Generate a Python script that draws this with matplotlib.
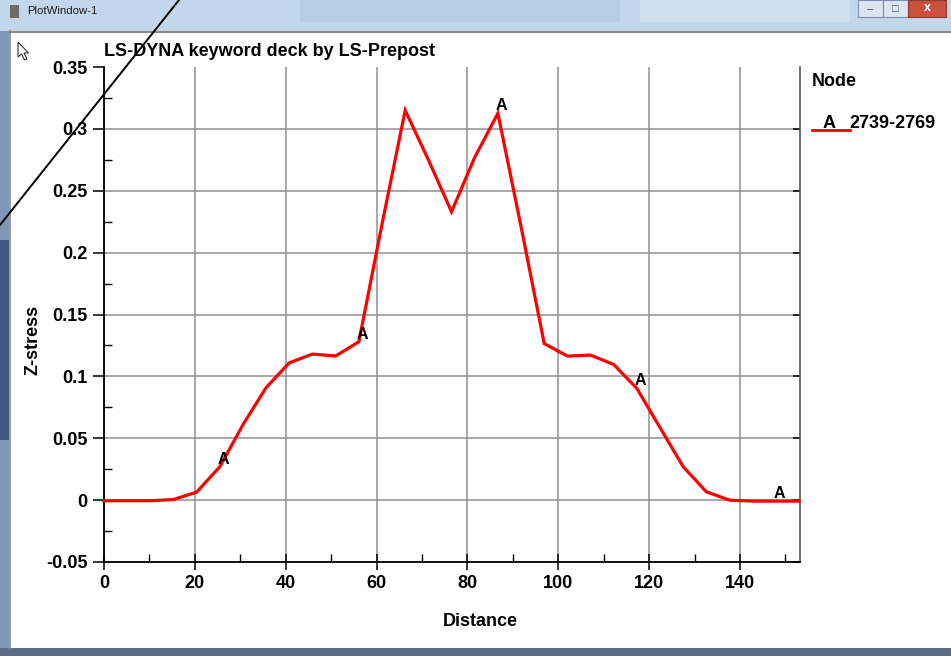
import matplotlib
matplotlib.use("Agg")
import matplotlib.pyplot as plt
from matplotlib.patches import Rectangle, Polygon
from matplotlib.lines import Line2D
from matplotlib.ticker import MultipleLocator

plt.rcParams['font.family'] = ['Liberation Sans', 'DejaVu Sans']

# Z-stress along the node path 2739-2769
distance = [0.0, 5.1, 10.2, 15.3, 20.4, 25.5, 30.6, 35.7, 40.8, 45.9,
            51.0, 56.1, 61.2, 66.3, 71.4, 76.5, 81.6, 86.7, 91.8, 96.9,
            102.0, 107.1, 112.2, 117.3, 122.4, 127.5, 132.6, 137.7, 142.8, 147.9,
            153.0]
zstress = [-0.0005, -0.0005, -0.0005, 0.0005, 0.0065, 0.027, 0.061, 0.091, 0.111, 0.118,
           0.1165, 0.128, 0.223, 0.315, 0.275, 0.233, 0.277, 0.3125, 0.221, 0.1265,
           0.1164, 0.1172, 0.1096, 0.0902, 0.0585, 0.0269, 0.0067, 0.0, -0.0008, -0.0008,
           -0.0008]
marker_every = [5, 11, 17, 23, 29]
curve_tag = "A"
node_range = "2739-2769"

x_ticks = [0, 20, 40, 60, 80, 100, 120, 140]
y_ticks = [-0.05, 0, 0.05, 0.1, 0.15, 0.2, 0.25, 0.3, 0.35]
y_tick_labels = ["-0.05", "0", "0.05", "0.1", "0.15", "0.2", "0.25", "0.3", "0.35"]

W, H = 951, 656
fig = plt.figure(figsize=(W / 100, H / 100), dpi=100)


def fx(px):
    return px / W


def fy(py):
    return 1 - py / H


def rect(x0, y0, x1, y1, color, z=0, **kw):
    fig.patches.append(Rectangle((fx(x0), fy(y1)), fx(x1) - fx(x0), fy(y0) - fy(y1),
                                 transform=fig.transFigure, facecolor=color,
                                 edgecolor=kw.pop('ec', 'none'), zorder=z, **kw))


# window frame
rect(0, 0, W, 31, '#c3d7ec')
rect(300, 0, 620, 22, '#b7cde6')
rect(640, 0, 850, 22, '#cfdff0')
rect(0, 31, 9, H, '#7f98b8')
rect(0, 240, 9, 440, '#3f5680')
rect(0, 648, W, H, '#5b6c86')
rect(9, 31, W, 648, 'white')
fig.lines.append(Line2D([fx(9), fx(W)], [fy(31.5), fy(31.5)], transform=fig.transFigure,
                        color='#8a8a8a', lw=1.5))
fig.lines.append(Line2D([fx(9.5), fx(9.5)], [fy(31), fy(648)], transform=fig.transFigure,
                        color='#8a8a8a', lw=1.2))
# caption buttons
rect(858, 0, 883, 17, '#dbe6f2', ec='#7d8fa8', lw=0.8)
rect(883, 0, 908, 17, '#dbe6f2', ec='#7d8fa8', lw=0.8)
rect(908, 0, 946, 17, '#c9503e', ec='#8a3a30', lw=0.8)
fig.text(fx(870.5), fy(9), "\u2013", ha='center', va='center', fontsize=8, color='#3a4a60')
fig.text(fx(895.5), fy(8.5), "\u25a1", ha='center', va='center', fontsize=8, color='#3a4a60')
fig.text(fx(927), fy(8), "x", ha='center', va='center', fontsize=9, color='white',
         fontweight='bold')
rect(10, 5, 19, 18, '#6b6b6b')
fig.text(fx(27), fy(11.5), "PlotWindow-1", ha='left', va='center', fontsize=8.2,
         color='#1a1a1a')

# mouse pointer
ptr = [(18, 42), (18, 57), (21.5, 54), (24.5, 60), (27, 59), (24, 53), (28.5, 53)]
fig.patches.append(Polygon([(fx(a), fy(b)) for a, b in ptr], closed=True,
                           transform=fig.transFigure, facecolor='white',
                           edgecolor='#333333', lw=0.8, zorder=5))

# plot area
ax = fig.add_axes([fx(104), fy(562), fx(800) - fx(104), fy(67) - fy(562)])
ax.set_zorder(3)
ax.plot(distance, zstress, color='#ff0000', lw=2.3, solid_joinstyle='miter', zorder=3,
        clip_on=False)
for i in marker_every:
    ax.annotate(curve_tag, (distance[i], zstress[i]), xytext=(2.5, 5.5),
                textcoords='offset points', ha='center', va='center',
                fontsize=11.5, fontweight='bold', color='black', zorder=4)

ax.set_xlim(0, 153.2)
ax.set_ylim(-0.05, 0.35)
ax.set_xticks(x_ticks)
ax.set_yticks(y_ticks)
ax.set_yticklabels(y_tick_labels)
ax.xaxis.set_minor_locator(MultipleLocator(10))
ax.yaxis.set_minor_locator(MultipleLocator(0.025))
ax.grid(True, which='major', color='#8f8f8f', lw=1.1)
ax.set_axisbelow(True)

ax.spines['top'].set_visible(False)
ax.spines['left'].set_linewidth(1.3)
ax.spines['bottom'].set_linewidth(1.3)
ax.spines['right'].set_color('#555555')
ax.spines['right'].set_linewidth(1.2)

ax.tick_params(axis='x', which='major', direction='inout', length=12, width=1.1,
               labelsize=13, pad=3)
ax.tick_params(axis='x', which='minor', direction='in', length=6, width=1.0)
ax.tick_params(axis='y', which='major', direction='out', length=8, width=1.1,
               labelsize=13, pad=4, right=True)
ax.tick_params(axis='y', which='minor', direction='in', length=6, width=1.0,
               right=False)
for lab in ax.get_xticklabels() + ax.get_yticklabels():
    lab.set_fontweight('bold')
# right-side major ticks point inward; no gridline along the open top edge
ymaj = ax.yaxis.get_major_ticks()
for t in ymaj:
    t.tick2line.set_marker(0)
    t.tick2line.set_markersize(5)
    t.tick2line.set_color('#333333')
ymaj[-1].gridline.set_visible(False)
ymaj[-1].tick2line.set_visible(False)

# titles and legend
fig.text(fx(104), fy(52), "LS-DYNA keyword deck by LS-Prepost", ha='left', va='center',
         fontsize=13, fontweight='bold')
fig.text(fx(480), fy(621), "Distance", ha='center', va='center', fontsize=13,
         fontweight='bold')
fig.text(fx(33), fy(340), "Z-stress", ha='center', va='center', rotation=90,
         fontsize=13, fontweight='bold')
fig.text(fx(812), fy(81), "Node", ha='left', va='center', fontsize=13,
         fontweight='bold')
fig.lines.append(Line2D([fx(812), fx(850)], [fy(130), fy(130)], transform=fig.transFigure,
                        color='#ff0000', lw=2.0))
fig.text(fx(829), fy(123), curve_tag, ha='center', va='center', fontsize=13,
         fontweight='bold')
fig.text(fx(849), fy(123), node_range, ha='left', va='center', fontsize=13,
         fontweight='bold')

# diagonal leader line across the upper-left corner
fig.lines.append(Line2D([fx(179), fx(0)], [fy(0), fy(225)], transform=fig.transFigure,
                        color='black', lw=1.4, zorder=10))

fig.savefig("out.png", dpi=100)
